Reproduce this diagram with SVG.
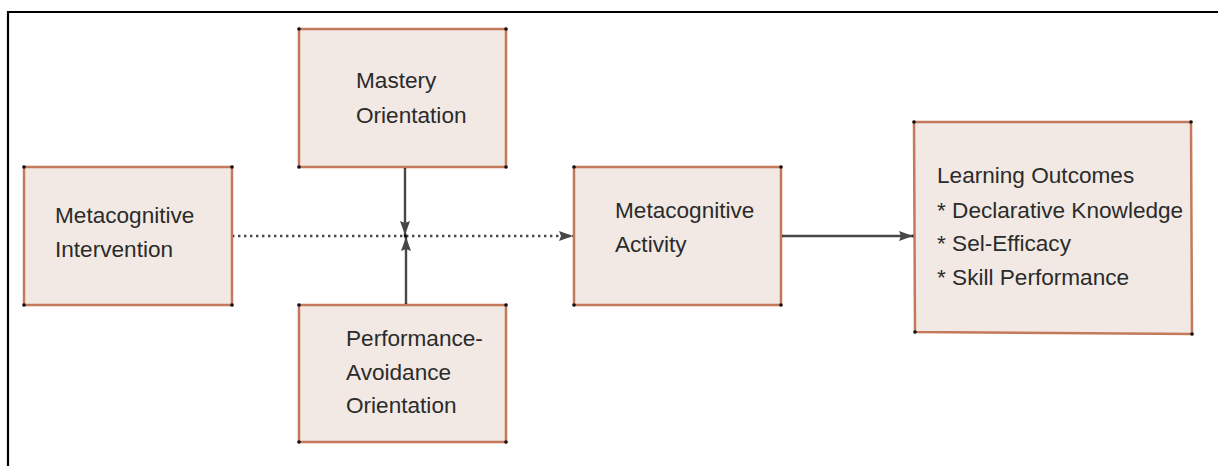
<svg xmlns="http://www.w3.org/2000/svg" width="1218" height="466" viewBox="0 0 1218 466">
  <defs>
    <style>
      .box { fill: #f2e9e4; stroke: #c47a5a; stroke-width: 2.5; }
      .lbl { font-family: "Liberation Sans", Arial, sans-serif; font-size: 22.6px; fill: #2b2b2b; }
      .dot { fill: #111; }
      .link { stroke: #474747; stroke-width: 2.4; fill: none; }
      .dotted { stroke-dasharray: 2.4 3.6; }
    </style>
    <marker id="arrow" viewBox="0 0 14 10" refX="14" refY="5" markerWidth="14" markerHeight="10" markerUnits="userSpaceOnUse" orient="auto">
      <path d="M0,0 L14,5 L0,10 L2,5 Z" fill="#474747"/>
    </marker>
  </defs>

  <rect width="1218" height="466" fill="#ffffff"/>

  <!-- outer frame (left and top edges) -->
  <path d="M8,466 L8,12 L1218,12" fill="none" stroke="#000" stroke-width="2.2"/>

  <!-- connectors -->
  <g id="connectors">
    <line class="link dotted" x1="232" y1="236" x2="573" y2="236" marker-end="url(#arrow)"/>
    <line class="link" x1="405" y1="167" x2="405" y2="235" marker-end="url(#arrow)"/>
    <line class="link" x1="406" y1="305" x2="406" y2="237" marker-end="url(#arrow)"/>
    <line class="link" x1="781" y1="236" x2="913" y2="236" marker-end="url(#arrow)"/>
    <circle class="dot" cx="405" cy="167" r="1.8"/>
    <circle class="dot" cx="406" cy="305" r="1.8"/>
    <circle class="dot" cx="405.5" cy="236" r="1.8"/>
    <circle class="dot" cx="232" cy="236" r="1.8"/>
    <circle class="dot" cx="574" cy="236" r="1.8"/>
    <circle class="dot" cx="781" cy="236" r="1.8"/>
    <circle class="dot" cx="914" cy="236" r="1.8"/>
  </g>

  <g id="mastery">
    <rect class="box" x="299" y="29" width="207" height="138"/>
    <circle class="dot" cx="299" cy="29" r="1.8"/><circle class="dot" cx="506" cy="29" r="1.8"/>
    <circle class="dot" cx="299" cy="167" r="1.8"/><circle class="dot" cx="506" cy="167" r="1.8"/>
    <text class="lbl" x="356" y="88">Mastery</text>
    <text class="lbl" x="356" y="123">Orientation</text>
  </g>

  <g id="intervention">
    <rect class="box" x="24" y="167" width="208" height="138"/>
    <circle class="dot" cx="24" cy="167" r="1.8"/><circle class="dot" cx="232" cy="167" r="1.8"/>
    <circle class="dot" cx="24" cy="305" r="1.8"/><circle class="dot" cx="232" cy="305" r="1.8"/>
    <text class="lbl" x="55" y="223">Metacognitive</text>
    <text class="lbl" x="55" y="257">Intervention</text>
  </g>

  <g id="avoidance">
    <rect class="box" x="299" y="305" width="207" height="137"/>
    <circle class="dot" cx="299" cy="305" r="1.8"/><circle class="dot" cx="506" cy="305" r="1.8"/>
    <circle class="dot" cx="299" cy="442" r="1.8"/><circle class="dot" cx="506" cy="442" r="1.8"/>
    <text class="lbl" x="346" y="346">Performance-</text>
    <text class="lbl" x="346" y="380">Avoidance</text>
    <text class="lbl" x="346" y="413">Orientation</text>
  </g>

  <g id="activity">
    <rect class="box" x="574" y="167" width="207" height="138"/>
    <circle class="dot" cx="574" cy="167" r="1.8"/><circle class="dot" cx="781" cy="167" r="1.8"/>
    <circle class="dot" cx="574" cy="305" r="1.8"/><circle class="dot" cx="781" cy="305" r="1.8"/>
    <text class="lbl" x="615" y="218">Metacognitive</text>
    <text class="lbl" x="615" y="252">Activity</text>
  </g>

  <g id="outcomes">
    <polygon class="box" points="914,122 1191,122 1192,334 915,332"/>
    <circle class="dot" cx="914" cy="122" r="1.8"/><circle class="dot" cx="1191" cy="122" r="1.8"/>
    <circle class="dot" cx="915" cy="332" r="1.8"/><circle class="dot" cx="1192" cy="334" r="1.8"/>
    <text class="lbl" x="937" y="183">Learning Outcomes</text>
    <text class="lbl" x="937" y="218">* Declarative Knowledge</text>
    <text class="lbl" x="937" y="251">* Sel-Efficacy</text>
    <text class="lbl" x="937" y="285">* Skill Performance</text>
  </g>
</svg>
